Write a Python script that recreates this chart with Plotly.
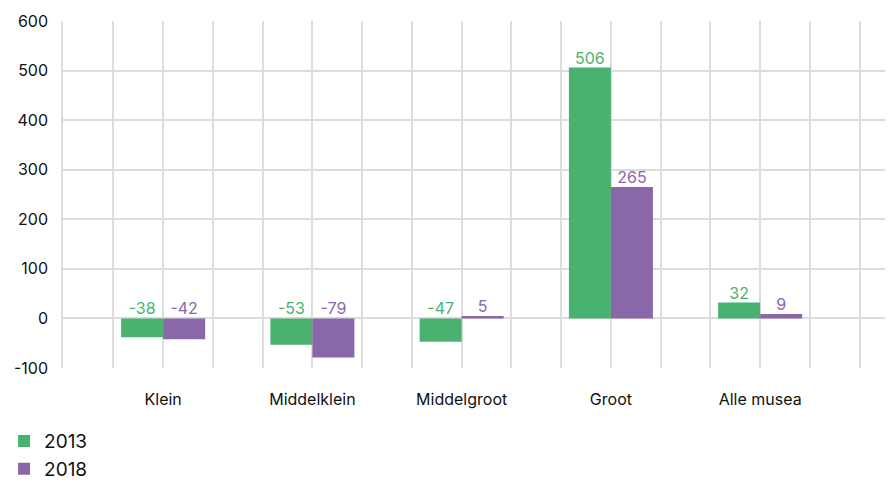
import plotly.graph_objects as go

categories = ["Klein", "Middelklein", "Middelgroot", "Groot", "Alle musea"]
values_2013 = [-38, -53, -47, 506, 32]
values_2018 = [-42, -79, 5, 265, 9]
y_ticks = [-100, 0, 100, 200, 300, 400, 500, 600]
y_tick_labels = ["-100", "0", "100", "200", "300", "400", "500", "600"]

green = "#4AB270"
purple = "#8A67A9"
grid = "#DCDCDC"

idx = list(range(len(categories)))
bargap = 0.437
half = (1 - bargap) / 4  # center offset of each bar in the group

fig = go.Figure()
fig.add_trace(go.Bar(x=idx, y=values_2013, name="2013", marker_color=green, marker_line_width=0))
fig.add_trace(go.Bar(x=idx, y=values_2018, name="2018", marker_color=purple, marker_line_width=0))

# value labels sit above the bar (or above the zero line for negatives)
for vals, col, sign in [(values_2013, green, -1), (values_2018, purple, 1)]:
    fig.add_trace(go.Scatter(
        x=[i + sign * half for i in idx],
        y=[max(v, 0) for v in vals],
        text=[str(v) for v in vals],
        mode="text", textposition="top center",
        textfont=dict(color=col, size=16, family="Inter"),
        showlegend=False, hoverinfo="skip", cliponaxis=False,
    ))

# page body has an 8px margin, so the figure is a bit smaller than the window
fig.update_layout(
    width=885, height=474,
    margin=dict(l=55, r=0, t=13, b=114, autoexpand=False),
    plot_bgcolor="white", paper_bgcolor="white",
    barmode="group", bargap=bargap, bargroupgap=0,
    font=dict(family="Inter", size=16, color="#111111"),
    legend=dict(orientation="v", x=-0.071, y=-0.156, xanchor="left", yanchor="top",
                font=dict(size=19, color="#111111"), tracegroupgap=0),
)
fig.update_xaxes(
    range=[-0.671, 4.89], tickvals=idx, ticktext=categories, automargin=False,
    showgrid=True, gridcolor=grid, gridwidth=1.5, zeroline=False,
    ticks="", ticklabelstandoff=20,
    minor=dict(tick0=0, dtick=1/3, showgrid=True, gridcolor=grid, gridwidth=1.5),
)
fig.update_yaxes(
    range=[-100, 600], tickvals=y_ticks, ticktext=y_tick_labels,
    showgrid=True, gridcolor=grid, gridwidth=1.5,
    zeroline=False, ticks="", ticklabelstandoff=10, automargin=False,
    showline=True, linecolor=grid, linewidth=1.5,
)

fig.write_html("out.html")
